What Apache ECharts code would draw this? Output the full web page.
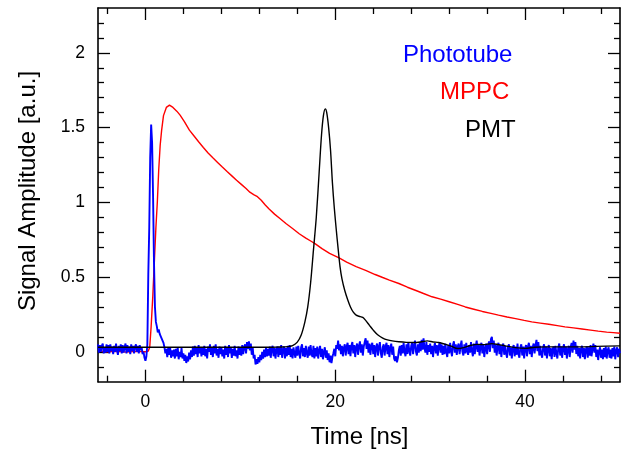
<!DOCTYPE html>
<html><head><meta charset="utf-8">
<script src="https://cdn.jsdelivr.net/npm/echarts@6/dist/echarts.min.js"></script>
<style>html,body{margin:0;padding:0;background:#fff}#c{width:621px;height:450px}</style>
</head><body><div id="c"></div>
<script>
// ---- tick layout ----
const xMajorTicks = [0, 20, 40];
const xMinorTicks = [-4, 4, 8, 12, 16, 24, 28, 32, 36, 44, 48];
const yMajorTicks = [0, 0.5, 1, 1.5, 2];
const yMinorTicks = [-0.1, 0.1, 0.2, 0.3, 0.4, 0.6, 0.7, 0.8, 0.9, 1.1, 1.2, 1.3, 1.4, 1.6, 1.7, 1.8, 1.9, 2.1, 2.2];
const xTitle = 'Time [ns]';
const yTitle = 'Signal Amplitude [a.u.]';
const seriesNames = ['Phototube', 'MPPC', 'PMT'];

// ---- Phototube (blue), sampled every 0.1 ns from -5 ns ----
const phototubeStart = -5, phototubeStep = 0.1;
const phototubeAmp = [
0.05,-0.005,0.045,0.0,0.04,0.055,-0.01,0.03,-0.005,0.05,
0.0,0.045,-0.01,0.05,0.005,0.035,-0.015,0.04,0.0,0.055,
0.01,-0.02,0.04,0.005,0.05,-0.01,0.045,-0.005,0.03,0.055,
-0.01,0.045,0.0,0.035,-0.015,0.05,0.005,0.04,-0.01,0.035,
0.05,0.0,0.04,-0.01,0.045,0.01,0.03,-0.015,0.0,-0.04,
-0.06,-0.03,0.05,0.52,0.83,1.3,1.52,1.4,1.05,0.6,
0.3,0.2,0.17,0.13,0.15,0.12,0.13,0.09,0.1,0.06,
0.03,-0.01,0.02,-0.035,0.025,-0.02,0.03,-0.04,0.01,-0.03,
0.015,-0.045,0.02,-0.03,0.03,-0.05,0.0,-0.035,0.025,-0.045,
-0.01,-0.06,-0.02,-0.075,-0.03,-0.065,-0.005,-0.05,0.01,-0.035,
0.035,-0.025,0.04,-0.015,0.03,-0.035,0.045,-0.01,0.03,-0.03,
0.025,-0.02,0.04,-0.03,0.02,-0.045,0.035,0.0,0.05,-0.02,
0.03,-0.035,0.04,-0.01,0.05,-0.025,0.02,-0.04,0.035,-0.015,
0.03,-0.03,0.015,-0.045,0.04,-0.02,0.03,-0.035,0.045,-0.01,
0.025,-0.04,0.02,-0.025,0.04,-0.03,0.01,-0.045,0.035,-0.02,
0.03,-0.025,0.045,-0.015,0.03,0.05,-0.01,0.065,0.02,0.07,
0.01,0.055,-0.02,0.03,-0.045,-0.02,-0.085,-0.05,-0.08,-0.035,
-0.07,-0.02,-0.055,0.0,-0.045,0.015,-0.035,0.025,-0.03,0.02,
-0.025,0.035,-0.04,0.02,0.04,-0.03,0.025,-0.045,0.015,0.035,
-0.035,0.03,-0.02,0.045,-0.04,0.015,0.035,-0.045,0.025,-0.03,
0.04,-0.02,0.045,-0.035,0.02,-0.045,0.03,-0.01,-0.04,0.035,
-0.025,0.04,-0.01,-0.045,0.03,0.05,-0.03,0.025,-0.035,0.04,
-0.01,-0.04,0.035,-0.025,0.045,-0.015,-0.035,0.04,-0.045,0.025,
-0.03,0.035,-0.045,0.01,0.04,-0.035,0.02,-0.05,0.0,0.03,
-0.04,0.01,-0.055,-0.01,-0.07,-0.025,-0.075,-0.035,-0.01,0.02,
-0.03,0.045,0.02,0.075,0.01,0.05,-0.015,0.04,-0.03,0.025,
0.05,-0.025,0.035,0.06,-0.015,0.045,-0.03,0.04,0.065,-0.01,
0.045,-0.035,0.03,0.055,-0.02,0.04,0.07,-0.005,0.05,-0.025,
0.035,0.065,0.09,0.02,0.075,-0.005,0.055,-0.02,0.04,0.06,
-0.015,0.045,-0.035,0.03,0.055,-0.025,0.035,0.065,-0.01,-0.04,
0.03,0.05,-0.025,0.035,0.06,-0.015,0.045,-0.035,0.025,0.055,
-0.02,0.035,-0.045,-0.06,-0.03,-0.07,-0.04,0.01,0.04,-0.025,
0.045,-0.01,0.06,0.0,-0.03,0.05,-0.015,0.065,0.005,-0.025,
0.04,0.06,-0.015,0.045,0.075,0.0,-0.025,0.05,-0.005,0.065,
0.005,0.08,0.015,0.09,0.025,-0.005,0.065,-0.02,0.045,0.0,
0.055,-0.015,0.04,-0.035,0.03,0.06,-0.01,0.045,-0.025,0.035,
0.065,-0.005,0.05,-0.02,0.04,-0.015,0.055,0.0,-0.035,0.045,
-0.01,0.06,0.005,-0.03,0.045,0.07,-0.005,0.05,-0.02,0.035,
0.055,-0.015,0.04,0.075,0.0,-0.025,0.05,-0.01,0.06,0.005,
-0.02,0.045,-0.005,0.065,0.005,-0.03,0.055,-0.015,0.04,0.075,
0.0,0.05,-0.025,0.035,0.06,-0.01,0.045,-0.035,0.025,0.055,
-0.015,0.04,0.07,0.0,0.085,0.1,0.025,0.075,-0.005,0.05,
-0.025,0.035,0.06,-0.015,0.045,-0.035,0.03,0.055,-0.02,0.04,
-0.01,-0.04,0.035,0.05,-0.025,0.03,-0.045,0.025,0.045,-0.03,
0.035,-0.02,0.055,-0.015,-0.04,0.03,0.05,-0.025,0.035,-0.045,
0.025,0.045,-0.03,0.035,0.06,-0.015,0.04,-0.035,0.03,0.055,
-0.01,0.045,0.08,0.005,0.065,-0.025,0.04,-0.015,-0.04,0.03,
0.05,-0.025,0.035,-0.045,0.02,0.045,-0.03,0.025,-0.05,0.015,
0.035,-0.035,0.04,-0.01,-0.045,0.03,0.055,-0.025,0.035,-0.04,
0.025,0.05,-0.02,0.035,-0.045,0.015,0.04,-0.035,0.03,0.06,
-0.005,0.075,0.015,0.065,-0.015,0.04,-0.03,0.025,-0.045,0.02,
0.04,-0.035,0.025,-0.05,0.015,0.035,-0.04,0.03,-0.025,0.045,
-0.03,0.02,0.055,-0.005,0.045,-0.035,0.015,-0.055,0.005,0.03,
-0.04,0.015,-0.05,0.025,-0.035,0.035,-0.045,0.01,0.03,-0.04,
0.015,-0.045,0.025,-0.03,0.035,-0.05,0.01,0.03,-0.035,0.02,
-0.01
];

// ---- MPPC (red) ----
const mppcTime = [-5,-4,-3,-2,-1,0,0.3,0.45,0.6,0.78,0.95,1.1,1.25,1.4,1.55,1.7,1.9,2.2,2.53,2.9,3.3,3.65,4.1,4.63,5.1,5.6,6.1,6.6,7.1,7.6,8.1,8.6,9.1,9.6,10.1,10.6,11.0,11.4,11.8,12.2,12.6,13.0,13.6,14.2,14.8,15.5,16.2,16.9,17.5,17.9,18.6,19.4,20.4,21.2,22.2,23.2,24.2,25.0,25.7,26.7,27.6,28.5,29.3,30.2,31.1,32.0,32.9,33.7,34.6,35.5,36.4,37.2,38.1,39.0,39.9,40.7,41.6,42.5,43.4,44.2,45.1,46.0,46.9,47.7,48.6,49.3,50];
const mppcAmp = [0.005,0.0,0.004,-0.002,0.003,0.0,0.005,0.03,0.17,0.38,0.62,0.83,1.0,1.22,1.38,1.48,1.58,1.635,1.65,1.635,1.61,1.583,1.54,1.483,1.445,1.405,1.367,1.33,1.298,1.267,1.236,1.206,1.177,1.148,1.12,1.092,1.068,1.052,1.038,1.014,0.984,0.957,0.921,0.89,0.858,0.825,0.79,0.76,0.738,0.722,0.69,0.658,0.628,0.6,0.57,0.545,0.517,0.497,0.48,0.457,0.432,0.41,0.39,0.368,0.352,0.335,0.317,0.3,0.285,0.27,0.257,0.245,0.233,0.222,0.21,0.2,0.192,0.184,0.175,0.167,0.16,0.153,0.145,0.138,0.132,0.128,0.124];

// ---- PMT (black) ----
const pmtTime = [-5,5,10,13,14,15,15.5,16,16.4,16.8,17.1,17.4,17.7,18.0,18.3,18.55,18.75,18.95,19.1,19.3,19.5,19.7,19.9,20.1,20.3,20.5,20.7,21.0,21.3,21.6,21.9,22.2,22.5,22.9,23.2,23.6,24.0,24.5,25.0,25.5,26.0,26.7,27.5,28.3,29.0,29.7,30.3,30.9,31.6,32.2,32.9,33.5,34.2,35.0,35.6,36.5,37.2,37.9,39.0,40.0,41.0,42.1,43.5,45.6,47.5,50];
const pmtAmp = [0.03,0.03,0.03,0.03,0.032,0.035,0.042,0.065,0.11,0.2,0.3,0.46,0.68,0.9,1.2,1.45,1.58,1.625,1.6,1.5,1.35,1.13,0.96,0.82,0.69,0.57,0.49,0.41,0.35,0.3,0.265,0.245,0.238,0.23,0.21,0.177,0.145,0.112,0.092,0.08,0.073,0.067,0.063,0.062,0.066,0.073,0.066,0.062,0.05,0.038,0.022,0.028,0.042,0.05,0.048,0.055,0.048,0.04,0.028,0.023,0.03,0.033,0.033,0.033,0.036,0.04];

const FONT = '"Liberation Sans", Arial, Helvetica, sans-serif';
const phototubeData = phototubeAmp.map((v, i) => [Math.round((phototubeStart + i * phototubeStep) * 10) / 10, v]);
const mppcData = mppcTime.map((t, i) => [t, mppcAmp[i]]);
const pmtData = pmtTime.map((t, i) => [t, pmtAmp[i]]);

const lineStyle = { color: '#000', width: 1.6 };
function xAx(pos, ticks, len, labels, showLine) {
  return {
    type: 'value', min: -5, max: 50, position: pos,
    axisLine: { show: showLine, onZero: false, lineStyle },
    axisTick: { show: true, inside: true, length: len, customValues: ticks, lineStyle: { color: '#000', width: 1.3 } },
    axisLabel: labels ? { show: true, customValues: ticks, margin: 11, color: '#000', fontSize: 17.5, fontFamily: FONT } : { show: false },
    splitLine: { show: false }
  };
}
function yAx(pos, ticks, len, labels, showLine) {
  return {
    type: 'value', min: -0.2, max: 2.3, position: pos,
    axisLine: { show: showLine, onZero: false, lineStyle },
    axisTick: { show: true, inside: true, length: len, customValues: ticks, lineStyle: { color: '#000', width: 1.3 } },
    axisLabel: labels ? { show: true, customValues: ticks, margin: 13, color: '#000', fontSize: 17.5, fontFamily: FONT } : { show: false },
    splitLine: { show: false }
  };
}

const chart = echarts.init(document.getElementById('c'), null, { renderer: 'canvas' });
chart.setOption({
  animation: false,
  backgroundColor: '#fff',
  grid: { left: 98, right: 1, top: 8, bottom: 68.3, containLabel: false },
  xAxis: [
    xAx('bottom', xMajorTicks, 12, true, true),
    xAx('bottom', xMinorTicks, 6, false, false),
    xAx('top', xMajorTicks, 12, false, true),
    xAx('top', xMinorTicks, 6, false, false)
  ],
  yAxis: [
    yAx('left', yMajorTicks, 12, true, true),
    yAx('left', yMinorTicks, 6, false, false),
    yAx('right', yMajorTicks, 12, false, true),
    yAx('right', yMinorTicks, 6, false, false)
  ],
  series: [
    { name: seriesNames[1], type: 'line', data: mppcData, showSymbol: false, symbol: 'none', smooth: false,
      lineStyle: { color: '#ff0000', width: 1.4 }, z: 2 },
    { name: seriesNames[0], type: 'line', data: phototubeData, showSymbol: false, symbol: 'none', sampling: null,
      lineStyle: { color: '#0000ff', width: 1.9 }, z: 3 },
    { name: seriesNames[2], type: 'line', data: pmtData, showSymbol: false, symbol: 'none', smooth: 0.3,
      lineStyle: { color: '#000000', width: 1.4 }, z: 4 }
  ],
  graphic: [
    { type: 'text', x: 403, y: 55, style: { text: seriesNames[0], fill: '#0000ff', font: '24px ' + FONT, textAlign: 'left', textVerticalAlign: 'middle' } },
    { type: 'text', x: 440, y: 92.5, style: { text: seriesNames[1], fill: '#ff0000', font: '24px ' + FONT, textAlign: 'left', textVerticalAlign: 'middle' } },
    { type: 'text', x: 465, y: 130, style: { text: seriesNames[2], fill: '#000000', font: '24px ' + FONT, textAlign: 'left', textVerticalAlign: 'middle' } },
    { type: 'text', x: 359.5, y: 437, style: { text: xTitle, fill: '#000', font: '24px ' + FONT, textAlign: 'center', textVerticalAlign: 'middle' } },
    { type: 'text', x: 28.5, y: 191, rotation: Math.PI / 2, style: { text: yTitle, fill: '#000', font: '24px ' + FONT, textAlign: 'center', textVerticalAlign: 'middle' } }
  ]
});
</script>
</body></html>
